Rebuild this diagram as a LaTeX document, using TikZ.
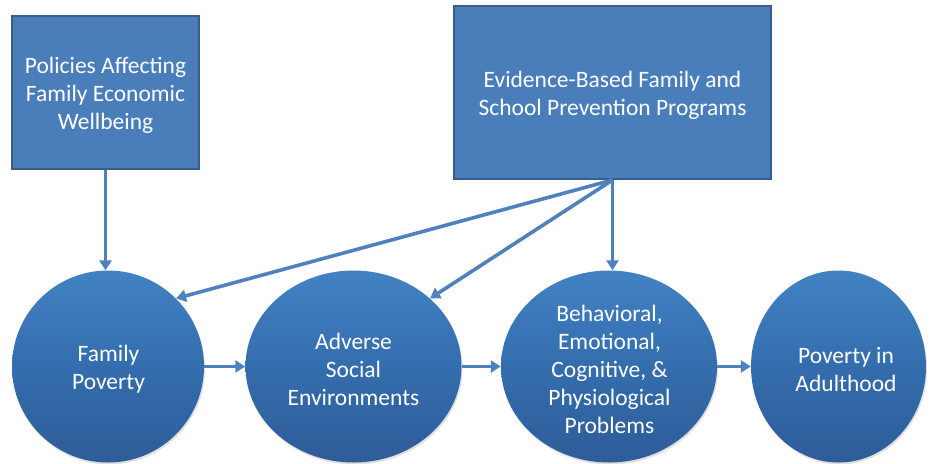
\documentclass[tikz,border=0pt]{standalone}
\usepackage{fontspec}
\setmainfont{Carlito}
\usetikzlibrary{shapes.geometric,arrows.meta,shadows}
\definecolor{boxfill}{RGB}{74,126,187}
\definecolor{boxline}{RGB}{56,93,138}
\definecolor{arrowc}{RGB}{79,129,189}
\definecolor{ctop}{RGB}{66,130,195}
\definecolor{cmid}{RGB}{52,109,174}
\definecolor{cbot}{RGB}{46,92,152}
\tikzset{
  txt/.style={text=white, align=center, font=\fontsize{23.5}{28}\selectfont},
  boxnode/.style={rectangle, fill=boxfill, draw=boxline, line width=2pt, inner sep=0pt, txt},
  ovalnode/.style={ellipse, inner sep=0pt, minimum height=192pt, draw=none,
    top color=ctop, bottom color=cbot, middle color=cmid,
    drop shadow={opacity=0.25, shadow xshift=1pt, shadow yshift=-2pt}, txt},
  lbl/.style={txt, inner sep=0pt},
  arr/.style={draw=arrowc, line width=3.6pt, -{Triangle[length=10pt,width=12pt]}}
}
\begin{document}
\begin{tikzpicture}[x=1pt,y=-1pt]
\useasboundingbox (0,0) rectangle (931,463);
\node[boxnode, minimum width=187pt, minimum height=153pt] (b1) at (105.5,92.5) {};
\node[lbl] (t1) at (105.5,95) {Policies Affecting\\Family Economic\\Wellbeing};
\node[boxnode, minimum width=317pt, minimum height=173pt] (b2) at (612.5,92.5) {};
\node[lbl] (t2) at (612.5,95) {Evidence-Based Family and\\School Prevention Programs};
\node[ovalnode, minimum width=192pt] (c1) at (108,366.5) {};
\node[lbl] (t1c) at (108.5,369.5) {Family\\Poverty};
\node[ovalnode, minimum width=216pt] (c2) at (353.5,366.5) {};
\node[lbl] (t2c) at (353.5,369.5) {Adverse\\Social\\Environments};
\node[ovalnode, minimum width=216pt] (c3) at (609,366.5) {};
\node[lbl] (t3c) at (609.5,369.5) {Behavioral,\\Emotional,\\Cognitive, \&\\Physiological\\Problems};
\node[ovalnode, minimum width=175pt] (c4) at (838.5,366.5) {};
\node[lbl] (t4c) at (846,369.5) {Poverty in\\Adulthood};
\draw[arr] (b1.south) -- (b1.south |- c1.north);
\draw[arr] (b2.south) -- (b2.south |- c3.north);
\draw[arr] (b2.south) -- (c1.north east);
\draw[arr] (b2.south) -- (c2.north east);
\draw[arr] (c1.east) -- (c2.west);
\draw[arr] (c2.east) -- (c3.west);
\draw[arr] (c3.east) -- (c4.west);
\end{tikzpicture}
\end{document}
